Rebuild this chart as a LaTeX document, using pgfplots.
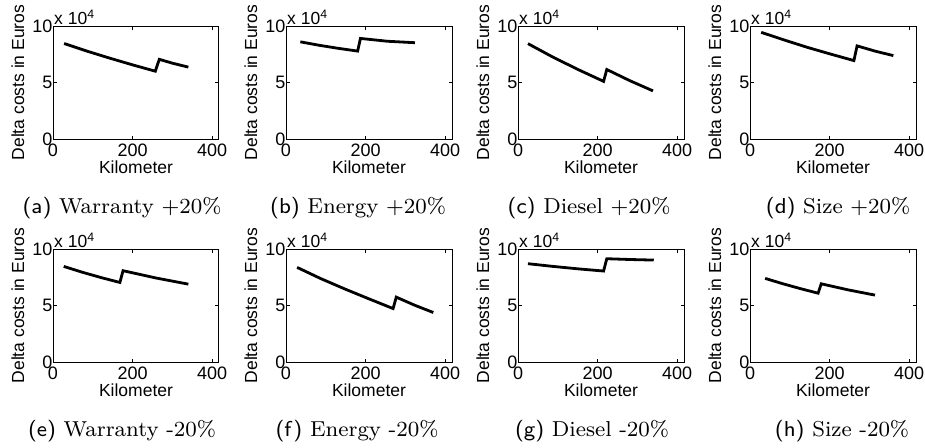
\documentclass[border=0pt]{standalone}
\usepackage{fontspec}
\usepackage{graphicx}
\usepackage{pgfplots}
\pgfplotsset{compat=1.18}
\newfontfamily\arial{Liberation Sans}

\pgfplotsset{
  panel/.style={
    scale only axis, width=166bp, height=113bp, anchor=north west,
    xmin=0, xmax=417, ymin=0, ymax=100000,
    xtick={0,200,400}, ytick={0,50000,100000}, yticklabels={0,5,10},
    scaled y ticks=false, scaled x ticks=false,
    tick align=inside, major tick length=3.5bp,
    axis line style={line width=1bp},
    every tick/.style={line width=0.7bp, black},
    /pgf/number format/assume math mode=true,
    tick label style={font=\fontsize{18bp}{21bp}\arial},
    yticklabel style={inner xsep=0.5bp},
    xticklabel style={yshift=-1bp},
    xlabel={Kilometer}, ylabel={Delta costs in Euros},
    label style={font=\fontsize{17.5bp}{20bp}\arial},
    xlabel style={at={(axis description cs:0.5,-0.248)}, anchor=center},
    ylabel style={at={(axis description cs:-0.211,0.5)}, anchor=center},
    after end axis/.code={
      \node[anchor=base west, inner sep=0pt, font=\fontsize{17.5bp}{20bp}\arial]
        at ([xshift=1bp,yshift=1.5bp]rel axis cs:0,1) {x 10\textsuperscript{4}};
    },
  },
  curve/.style={black, mark=none, line width=2.8bp, line join=miter},
}
% sub-captions: small-size Latin Modern, enlarged
\newcommand\subcaption[2]{\scalebox{2.7}{\fontsize{8bp}{9.6bp}\selectfont\textsf{(#1)} #2}}
\tikzset{subcap/.style={anchor=base, inner sep=0pt}}

\begin{document}
\begin{tikzpicture}
\useasboundingbox (0,0) rectangle (925bp,-448bp);

% ---- first row: +20% ----
\begin{axis}[panel, at={(53bp,-26bp)}]
  \addplot[curve] coordinates {(28,84500) (85,77800) (142,71600) (200,65600) (257,60000)
                        (267,70500) (300,67100) (340,63600)};
\end{axis}
\begin{axis}[panel, at={(286bp,-26bp)}]
  \addplot[curve] coordinates {(36,86000) (84,82900) (132,80200) (180,77800)
                        (187,89000) (255,86500) (324,85200)};
\end{axis}
\begin{axis}[panel, at={(518bp,-26bp)}]
  \addplot[curve] coordinates {(25,84400) (88,72400) (152,61300) (215,51000)
                        (223,61500) (281,51600) (339,42600)};
\end{axis}
\begin{axis}[panel, at={(750bp,-26bp)}]
  \addplot[curve] coordinates {(28,94400) (86,87600) (145,81000) (203,75100) (261,69400)
                        (269,82400) (315,77700) (360,73800)};
\end{axis}

% ---- second row: -20% ----
\begin{axis}[panel, at={(53bp,-249bp)}]
  \addplot[curve] coordinates {(27,84600) (74,79400) (121,74700) (168,70400)
                        (176,80800) (258,74400) (340,68900)};
\end{axis}
\begin{axis}[panel, at={(286bp,-249bp)}]
  \addplot[curve] coordinates {(28,83700) (88,73700) (148,64600) (209,55800) (269,47300)
                        (277,57400) (323,50300) (370,43800)};
\end{axis}
\begin{axis}[panel, at={(518bp,-249bp)}]
  \addplot[curve] coordinates {(25,87000) (88,84600) (152,82400) (215,80500)
                        (223,91400) (282,90700) (341,90200)};
\end{axis}
\begin{axis}[panel, at={(750bp,-249bp)}]
  \addplot[curve] coordinates {(38,74000) (82,69300) (127,64900) (171,60900)
                        (179,69200) (247,63800) (314,59200)};
\end{axis}

% ---- sub-captions ----
\node[subcap] at (122bp,-213bp) {\subcaption{a}{Warranty $+20\%$}};
\node[subcap] at (358bp,-213bp) {\subcaption{b}{Energy $+20\%$}};
\node[subcap] at (589bp,-213bp) {\subcaption{c}{Diesel $+20\%$}};
\node[subcap] at (838bp,-213bp) {\subcaption{d}{Size $+20\%$}};
\node[subcap] at (122bp,-436bp) {\subcaption{e}{Warranty -20\%}};
\node[subcap] at (357bp,-436bp) {\subcaption{f}{Energy -20\%}};
\node[subcap] at (592bp,-436bp) {\subcaption{g}{Diesel -20\%}};
\node[subcap] at (842bp,-436bp) {\subcaption{h}{Size -20\%}};
\end{tikzpicture}
\end{document}
